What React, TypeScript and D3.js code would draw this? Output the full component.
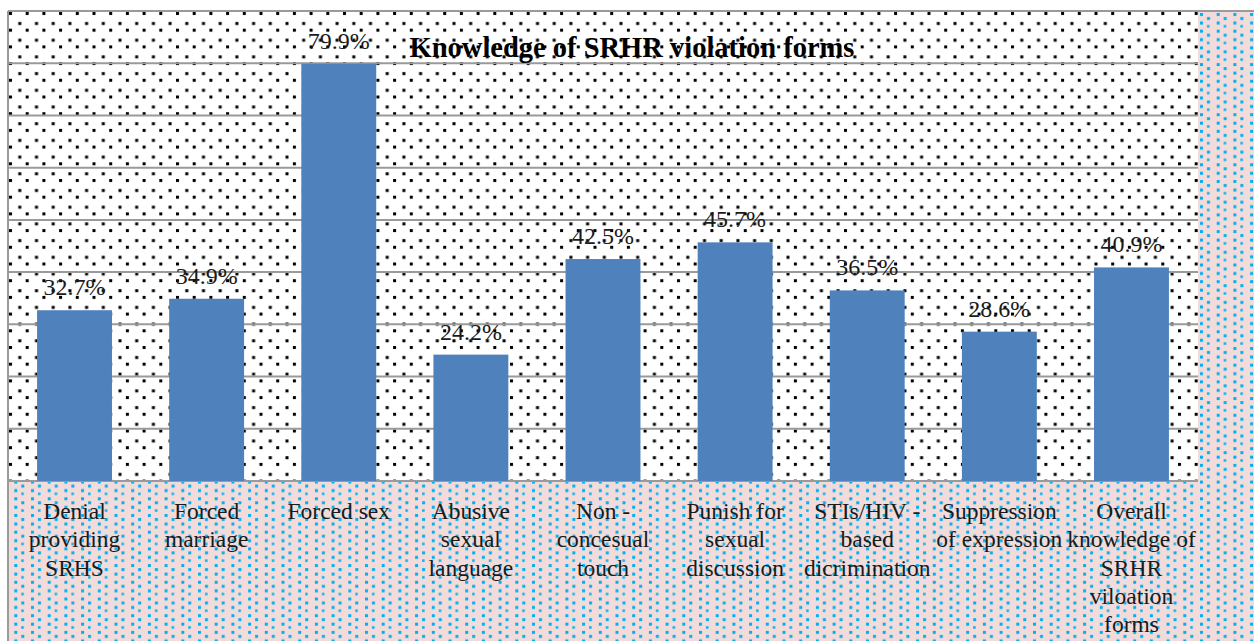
import React from "react";
import * as d3 from "d3";

const width = 1254;
const height = 641;
const plot = { left: 8, top: 11, right: 1198, bottom: 481 };

// categories (as wrapped in the picture) and values in percent
const categories = [
  ["Denial", "providing", "SRHS"],
  ["Forced", "marriage"],
  ["Forced sex"],
  ["Abusive", "sexual", "language"],
  ["Non -", "concesual", "touch"],
  ["Punish for", "sexual", "discussion"],
  ["STIs/HIV -", "based", "dicrimination"],
  ["Suppression", "of expression"],
  ["Overall", "knowledge of", "SRHR", "viloation", "forms"],
];
const values = [32.7, 34.9, 79.9, 24.2, 42.5, 45.7, 36.5, 28.6, 40.9];
const gridTicks = [0, 10, 20, 30, 40, 50, 60, 70, 80, 90];

const serif = "'Liberation Serif', 'Times New Roman', serif";

export default function App() {
  const x = d3
    .scaleBand<number>()
    .domain(d3.range(values.length))
    .range([plot.left, plot.right])
    .paddingInner(0.433)
    .paddingOuter(0.22);

  const y = d3.scaleLinear().domain([0, 90]).range([plot.bottom, plot.top]);

  return (
    <svg
      width={width}
      height={height}
      style={{ position: "absolute", left: 0, top: 0, display: "block" }}
    >
      <defs>
        <pattern id="blackDots" width={16.7} height={16.7} patternUnits="userSpaceOnUse" x={plot.left + 1} y={plot.top + 1}>
          <rect width={16.7} height={16.7} fill="white" />
          <rect x={0} y={0} width={3} height={3} fill="black" />
          <rect x={9.3} y={10} width={3} height={3} fill="black" />
        </pattern>
        <pattern id="blueDots" width={16.7} height={16.7} patternUnits="userSpaceOnUse" x={1200} y={12}>
          <rect width={16.7} height={16.7} fill="#f2dcdb" />
          <rect x={0} y={1} width={3} height={3} fill="#00b0f0" />
          <rect x={0} y={9.5} width={3} height={3} fill="#00b0f0" />
          <rect x={7} y={5} width={3} height={3} fill="#00b0f0" />
          <rect x={7} y={13} width={2.5} height={2.5} fill="#00b0f0" />
        </pattern>
      </defs>

      <rect width={width} height={height} fill="white" />
      <rect x={plot.left} y={plot.top} width={width - plot.left} height={height - plot.top} fill="url(#blueDots)" />
      <rect
        x={plot.left}
        y={plot.top}
        width={plot.right - plot.left}
        height={plot.bottom - plot.top}
        fill="url(#blackDots)"
      />

      {gridTicks.map((t) => (
        <line
          key={t}
          x1={plot.left}
          x2={t === 90 ? width : plot.right}
          y1={y(t)}
          y2={y(t)}
          stroke="#9a9a9a"
          strokeWidth={2}
        />
      ))}
      <line x1={plot.left} x2={plot.left} y1={plot.top} y2={height} stroke="#9a9a9a" strokeWidth={2} />

      <text
        x={632}
        y={57}
        textAnchor="middle"
        fontFamily={serif}
        fontWeight="bold"
        fontSize={28.5}
        fill="black"
      >
        Knowledge of SRHR violation forms
      </text>

      {values.map((v, i) => (
        <g key={i}>
          <rect
            x={x(i)}
            y={y(v)}
            width={x.bandwidth()}
            height={y(0) - y(v)}
            fill="#4f81bd"
          />
          <text
            x={(x(i) as number) + x.bandwidth() / 2}
            y={y(v) - 15}
            textAnchor="middle"
            fontFamily={serif}
            fontSize={24}
            fill="#1a1a1a"
          >
            {v.toFixed(1)}%
          </text>
        </g>
      ))}

      {categories.map((lines, i) => (
        <text
          key={i}
          x={(x(i) as number) + x.bandwidth() / 2}
          y={519}
          textAnchor="middle"
          fontFamily={serif}
          fontSize={23.5}
          fill="#1a1a1a"
        >
          {lines.map((l, j) => (
            <tspan key={j} x={(x(i) as number) + x.bandwidth() / 2} dy={j === 0 ? 0 : 28.3}>
              {l}
            </tspan>
          ))}
        </text>
      ))}
    </svg>
  );
}
